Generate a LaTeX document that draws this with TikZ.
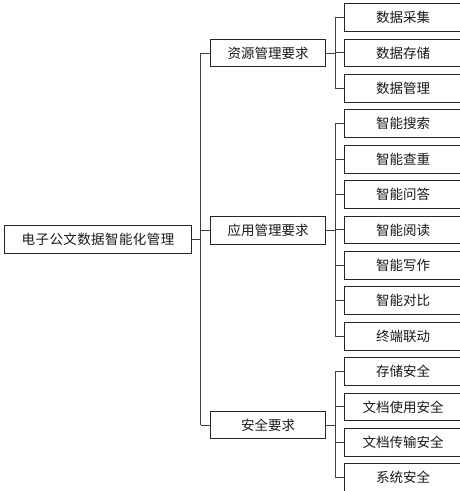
\documentclass[tikz,border=0pt]{standalone}
\usepackage{fontspec}
\setmainfont{Noto Sans CJK SC}
\begin{document}
\begin{tikzpicture}[x=1pt,y=-1pt,
  box/.style={draw=black!85, line width=0.9pt, fill=white, inner sep=0pt, minimum height=27.8pt, font=\fontsize{13.5pt}{15pt}\selectfont, text=black!90},
  rootbox/.style={box, minimum width=187pt, font=\fontsize{13.5pt}{15pt}\selectfont\addfontfeature{LetterSpace=3}},
  midbox/.style={box, minimum width=115.5pt},
  leafbox/.style={box, minimum width=118pt},
  link/.style={draw=black!75, line width=0.9pt}]
\useasboundingbox (0,0) rectangle (459,491);
% root
\node[rootbox] (root) at (98,239.5) {电子公文数据智能化管理};
% level 1
\node[midbox] (m1) at (268,53) {资源管理要求};
\node[midbox] (m2) at (268,230.2) {应用管理要求};
\node[midbox] (m3) at (268,425) {安全要求};
% level 2
\def\yy#1{17.5+35.4*#1}
\node[leafbox] (l0) at (403,{\yy{0}}) {数据采集};
\node[leafbox] (l1) at (403,{\yy{1}}) {数据存储};
\node[leafbox] (l2) at (403,{\yy{2}}) {数据管理};
\node[leafbox] (l3) at (403,{\yy{3}}) {智能搜索};
\node[leafbox] (l4) at (403,{\yy{4}}) {智能查重};
\node[leafbox] (l5) at (403,{\yy{5}}) {智能问答};
\node[leafbox] (l6) at (403,{\yy{6}}) {智能阅读};
\node[leafbox] (l7) at (403,{\yy{7}}) {智能写作};
\node[leafbox] (l8) at (403,{\yy{8}}) {智能对比};
\node[leafbox] (l9) at (403,{\yy{9}}) {终端联动};
\node[leafbox] (l10) at (403,{\yy{10}}) {存储安全};
\node[leafbox] (l11) at (403,{\yy{11}}) {文档使用安全};
\node[leafbox] (l12) at (403,{\yy{12}}) {文档传输安全};
\node[leafbox] (l13) at (403,{\yy{13}}) {系统安全};
% trunk
\coordinate (tx) at (200.7,0);
\coordinate (bx) at (335,0);
\draw[link] (root.east) -- (root.east -| tx);
\draw[link] (m1.west -| tx) -- (m3.west -| tx);
\foreach \m in {m1,m2,m3} \draw[link] (\m.west -| tx) -- (\m.west);
% branches
\draw[link] (m1.east) -- (m1.east -| bx);
\draw[link] (l0.west -| bx) -- (l2.west -| bx);
\foreach \l in {l0,l1,l2} \draw[link] (\l.west -| bx) -- (\l.west);
\draw[link] (m2.east) -- (m2.east -| bx);
\draw[link] (l3.west -| bx) -- (l9.west -| bx);
\foreach \l in {l3,l4,l5,l6,l7,l8,l9} \draw[link] (\l.west -| bx) -- (\l.west);
\draw[link] (m3.east) -- (m3.east -| bx);
\draw[link] (l10.west -| bx) -- (l13.west -| bx);
\foreach \l in {l10,l11,l12,l13} \draw[link] (\l.west -| bx) -- (\l.west);
\end{tikzpicture}
\end{document}
